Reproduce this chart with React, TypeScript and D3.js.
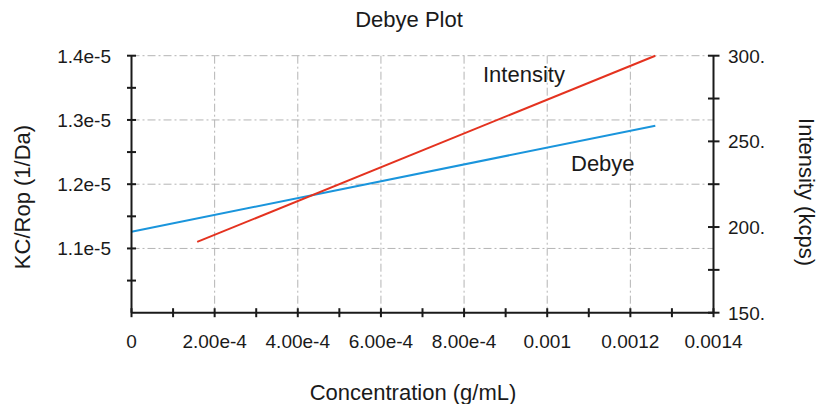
import React from "react";
import * as d3 from "d3";

// Data
const debyeX = [0, 0.00126];
const debyeY = [1.126e-5, 1.291e-5];
const intensityX = [0.000158, 0.00126];
const intensityY = [191.3, 300];

const xTicks = [0, 0.0002, 0.0004, 0.0006, 0.0008, 0.001, 0.0012, 0.0014];
const xTickLabels = ["0", "2.00e-4", "4.00e-4", "6.00e-4", "8.00e-4", "0.001", "0.0012", "0.0014"];
const xMinorTicks = [0.0001, 0.0003, 0.0005, 0.0007, 0.0009, 0.0011, 0.0013];
const yLeftTicks = [1.1e-5, 1.2e-5, 1.3e-5, 1.4e-5];
const yLeftTickLabels = ["1.1e-5", "1.2e-5", "1.3e-5", "1.4e-5"];
const yLeftMinorTicks = [1.05e-5, 1.15e-5, 1.25e-5, 1.35e-5];
const yRightTicks = [150, 200, 250, 300];
const yRightTickLabels = ["150.", "200.", "250.", "300."];
const yRightMinorTicks = [175, 225, 275];

const W = 818;
const H = 404;
const FONT = "'Liberation Sans', Arial, Helvetica, sans-serif";
const RED = "#e4321f";
const BLUE = "#1a95dc";
const GRID = "#b4b4b4";

export default function App() {
  const x = d3.scaleLinear().domain([0, 0.0014]).range([131.5, 713.5]);
  const yL = d3.scaleLinear().domain([1.0e-5, 1.4e-5]).range([312.7, 55.7]);
  const yR = d3.scaleLinear().domain([150, 300]).range([312.7, 55.7]);

  const debyeLine = d3
    .line<number>()
    .x((_, i) => x(debyeX[i]))
    .y((d) => yL(d));
  const intLine = d3
    .line<number>()
    .x((_, i) => x(intensityX[i]))
    .y((d) => yR(d));

  const x0 = x(0);
  const x1 = x(0.0014);
  const yb = yL(1.0e-5);
  const yt = yL(1.4e-5);

  return (
    <svg
      width={W}
      height={H}
      style={{ position: "absolute", left: 0, top: 0, background: "#fff" }}
      fontFamily={FONT}
    >
      {/* grid */}
      <g stroke={GRID} strokeWidth={1} strokeDasharray="8,3,2,3" fill="none">
        {xTicks.slice(1, -1).map((t) => (
          <line key={"gx" + t} x1={x(t)} x2={x(t)} y1={yt} y2={yb} />
        ))}
        {yLeftTicks.map((t) => (
          <line key={"gy" + t} x1={x0} x2={x1} y1={yL(t)} y2={yL(t)} />
        ))}
      </g>

      {/* lines */}
      <path d={debyeLine(debyeY) || ""} fill="none" stroke={BLUE} strokeWidth={2} />
      <path d={intLine(intensityY) || ""} fill="none" stroke={RED} strokeWidth={2} />

      {/* axes */}
      <g stroke="#1a1a1a" strokeWidth={2} fill="none">
        <line x1={x0} x2={x1} y1={yb} y2={yb} />
        <line x1={x0} x2={x0} y1={yt} y2={yb} />
        <line x1={x1} x2={x1} y1={yt} y2={yb} />
        {xTicks.concat(xMinorTicks).map((t) => (
          <line key={"tx" + t} x1={x(t)} x2={x(t)} y1={yb - 4.5} y2={yb + 4.5} />
        ))}
        {yLeftTicks.concat(yLeftMinorTicks).map((t) => (
          <line key={"tyl" + t} x1={x0 - 4.5} x2={x0 + 4.5} y1={yL(t)} y2={yL(t)} />
        ))}
        {yRightTicks.concat(yRightMinorTicks).map((t) => (
          <line key={"tyr" + t} x1={x1 - 5.5} x2={x1 + 6} y1={yR(t)} y2={yR(t)} />
        ))}
      </g>

      {/* tick labels */}
      <g fontSize={19} fill="#1a1a1a">
        {xTicks.map((t, i) => (
          <text key={"lx" + t} x={x(t)} y={347.5} textAnchor="middle">
            {xTickLabels[i]}
          </text>
        ))}
        {yLeftTicks.map((t, i) => (
          <text key={"lyl" + t} x={111} y={yL(t)} dy="0.36em" textAnchor="end">
            {yLeftTickLabels[i]}
          </text>
        ))}
        {yRightTicks.map((t, i) => (
          <text key={"lyr" + t} x={728} y={yR(t)} dy="0.36em" textAnchor="start">
            {yRightTickLabels[i]}
          </text>
        ))}
      </g>

      {/* titles */}
      <g fontSize={22} fill="#1a1a1a">
        <text x={409} y={27} textAnchor="middle">Debye Plot</text>
        <text x={413} y={400} textAnchor="middle">Concentration (g/mL)</text>
        <text transform="translate(29.5,197) rotate(-90)" textAnchor="middle">KC/Rop (1/Da)</text>
        <text transform="translate(799,192) rotate(90)" textAnchor="middle">Intensity (kcps)</text>
        <text x={483} y={82}>Intensity</text>
        <text x={571} y={171}>Debye</text>
      </g>
    </svg>
  );
}
